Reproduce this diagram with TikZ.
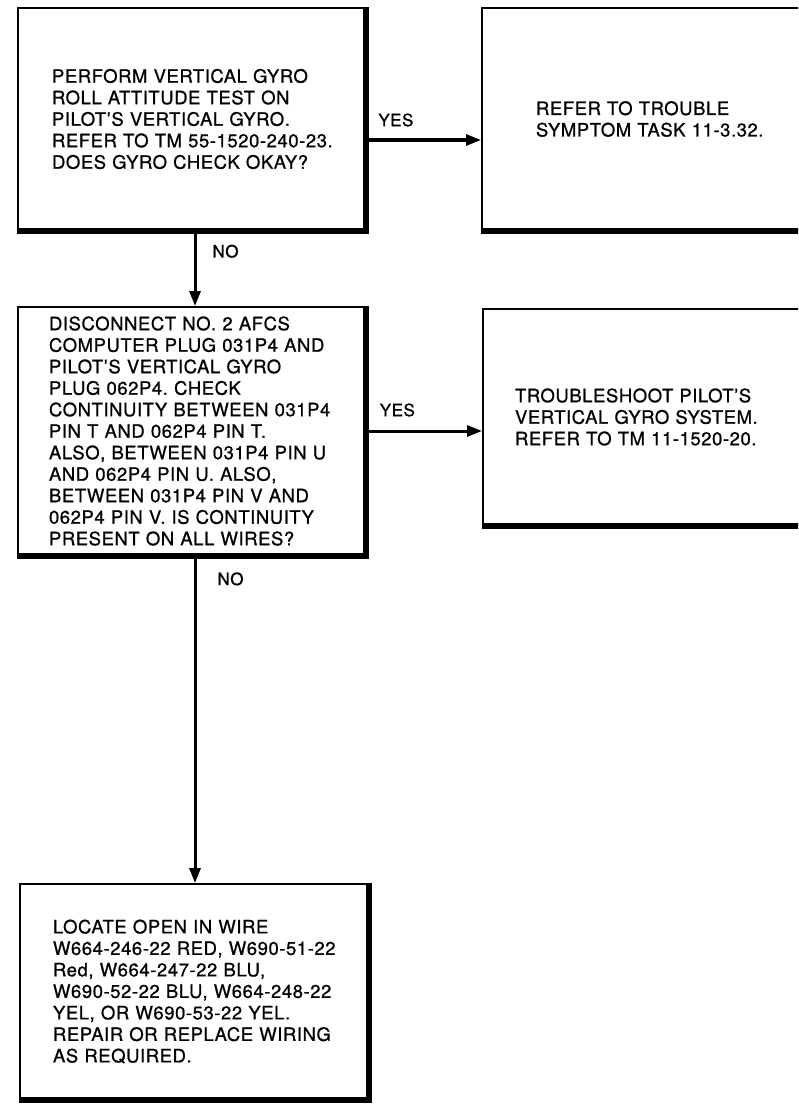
\documentclass[tikz,border=0pt]{standalone}
\usepackage{fontspec}
\setmainfont{TeX Gyre Heros}[LetterSpace=3,FakeBold=0.8]
\usetikzlibrary{arrows.meta,positioning}
\frenchspacing

\begin{document}
\begin{tikzpicture}[x=1pt,y=1pt,
  box/.style={draw,line width=2pt,rectangle,inner sep=0pt,align=left,
    font=\fontsize{18.5}{21.5}\selectfont},
  arr/.style={-{Triangle[length=15pt,width=11pt]},line width=3pt},
  lbl/.style={inner sep=0pt,font=\fontsize{17}{20}\selectfont}
]
  \useasboundingbox (0,0) rectangle (798,-1105);
  \clip (0,0) rectangle (798,-1105);
  % steps down the left side
  \node[box,minimum width=347,minimum height=222,text width=279] (gyrotest) at (191.5,-119)
    {PERFORM VERTICAL GYRO\\ ROLL ATTITUDE TEST ON\\ PILOT'S VERTICAL GYRO.\\
     \mbox{REFER TO TM 55-1520-240-23.}\\ DOES GYRO CHECK OKAY?};
  \node[box,minimum width=347,minimum height=248,text width=285] (contcheck) at (191.5,-431)
    {DISCONNECT NO. 2 AFCS\\ COMPUTER PLUG 031P4 AND\\ PILOT'S VERTICAL GYRO\\
     PLUG 062P4. CHECK\\ \mbox{CONTINUITY BETWEEN 031P4}\\ PIN T AND 062P4 PIN T.\\
     \mbox{ALSO, BETWEEN 031P4 PIN U}\\ AND 062P4 PIN U. ALSO,\\ BETWEEN 031P4 PIN V AND\\
     \mbox{062P4 PIN V. IS CONTINUITY}\\ PRESENT ON ALL WIRES?};
  \node[box,minimum width=348,minimum height=215,text width=282] (repair) at (194,-991.5)
    {LOCATE OPEN IN WIRE\\ \mbox{W664-246-22 RED, W690-51-22}\\ Red, W664-247-22 BLU,\\
     \mbox{W690-52-22 BLU, W664-248-22}\\ YEL, OR W690-53-22 YEL.\\ \mbox{REPAIR OR REPLACE WIRING}\\
     AS REQUIRED.};
  % exits on the right
  \node[box,minimum width=418,minimum height=222,text width=310] (symptom) at (691,-119)
    {REFER TO TROUBLE\\ SYMPTOM TASK 11-3.32.};
  \node[box,minimum width=417,minimum height=216,text width=353] (vgsys) at (691.5,-417)
    {TROUBLESHOOT PILOT'S\\ VERTICAL GYRO SYSTEM.\\ REFER TO TM 11-1520-20.};
  % heavy lower and right edges
  \foreach \b in {gyrotest,contcheck,repair,symptom,vgsys}
    \draw[line width=5.5pt] (\b.south west) -- (\b.south east) -- (\b.north east);

  \draw[arr] ([yshift=-21]gyrotest.east) -- node[lbl,above=12pt,pos=0.26] {YES}
    ([yshift=-21]gyrotest.east -| symptom.west);
  \draw[arr] (contcheck.east) -- node[lbl,above=13pt,pos=0.27] {YES}
    (contcheck.east -| vgsys.west);
  \draw[arr] ([xshift=3.5]gyrotest.south) -- node[lbl,right=16pt,pos=0.27] {NO}
    ([xshift=3.5]contcheck.north);
  \draw[arr] ([xshift=3.5]contcheck.south) -- node[lbl,right=21pt,pos=0.07] {NO}
    ([xshift=1]repair.north);
\end{tikzpicture}
\end{document}
